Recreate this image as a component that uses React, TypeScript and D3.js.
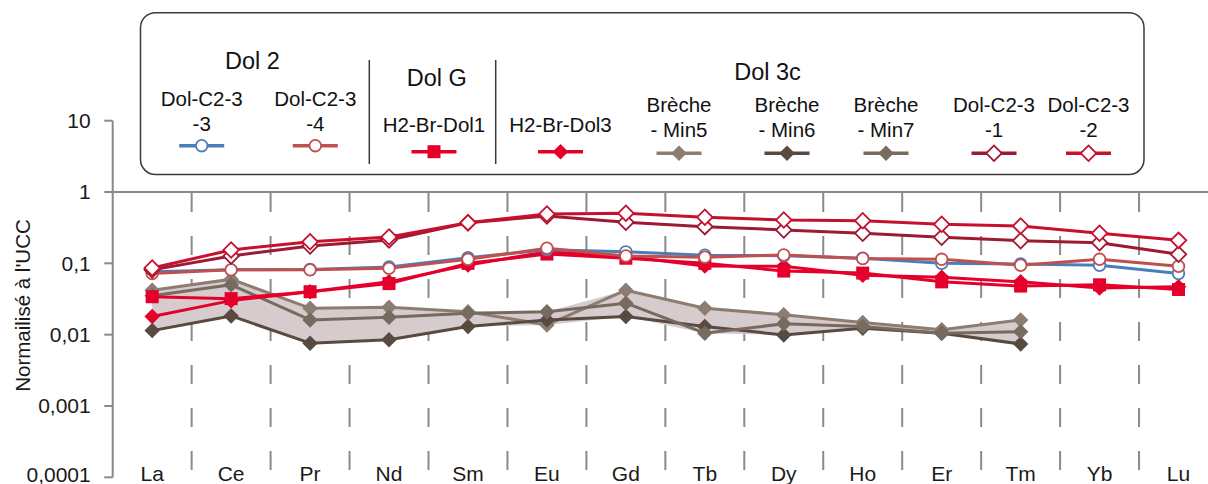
import * as React from 'react';
import * as d3 from 'd3';

const WIDTH = 1208;
const HEIGHT = 484;
const FONT = '"Liberation Sans", Arial, sans-serif';

// categories and y ticks
const ELEMENTS = ['La', 'Ce', 'Pr', 'Nd', 'Sm', 'Eu', 'Gd', 'Tb', 'Dy', 'Ho', 'Er', 'Tm', 'Yb', 'Lu'];
const Y_TICKS = [10, 1, 0.1, 0.01, 0.001, 0.0001];
const Y_TICK_LABELS = ['10', '1', '0,1', '0,01', '0,001', '0,0001'];
const Y_TITLE = "Normailisé à l'UCC";

// Dol 2
const DOL_C2_3_3 = [0.076, 0.081, 0.082, 0.089, 0.12, 0.155, 0.145, 0.13, 0.128, 0.118, 0.1, 0.098, 0.094, 0.072];
const DOL_C2_3_4 = [0.072, 0.081, 0.081, 0.085, 0.114, 0.163, 0.127, 0.122, 0.131, 0.117, 0.114, 0.094, 0.114, 0.091];
// Dol G
const H2_BR_DOL1 = [0.034, 0.032, 0.04, 0.052, 0.1, 0.135, 0.118, 0.1, 0.078, 0.073, 0.055, 0.048, 0.05, 0.043];
// Dol 3c
const H2_BR_DOL3 = [0.018, 0.03, 0.04, 0.055, 0.095, 0.145, 0.125, 0.092, 0.091, 0.068, 0.064, 0.055, 0.045, 0.047];
const BRECHE_MIN5 = [0.042, 0.06, 0.0235, 0.0243, 0.021, 0.0137, 0.042, 0.0235, 0.019, 0.0148, 0.0117, 0.0161];
const BRECHE_MIN6 = [0.0114, 0.0183, 0.0076, 0.0085, 0.013, 0.016, 0.018, 0.013, 0.0099, 0.0123, 0.0105, 0.0074];
const BRECHE_MIN7 = [0.035, 0.05, 0.0161, 0.0176, 0.02, 0.021, 0.0276, 0.0105, 0.0142, 0.013, 0.0105, 0.011];
const DOL_C2_3_1 = [0.081, 0.127, 0.175, 0.213, 0.37, 0.461, 0.376, 0.327, 0.294, 0.264, 0.232, 0.208, 0.195, 0.134];
const DOL_C2_3_2 = [0.086, 0.154, 0.201, 0.234, 0.372, 0.492, 0.503, 0.442, 0.405, 0.396, 0.353, 0.334, 0.265, 0.21];

type MarkerType = 'circle' | 'square' | 'diamond' | 'openDiamond';

interface Series {
    label: string[];
    values: number[];
    color: string;
    marker: MarkerType;
}

// drawing order (last on top)
const SERIES: Series[] = [
    { label: ['Brèche', '- Min5'], values: BRECHE_MIN5, color: '#8c7c71', marker: 'diamond' },
    { label: ['Brèche', '- Min6'], values: BRECHE_MIN6, color: '#584a40', marker: 'diamond' },
    { label: ['Brèche', '- Min7'], values: BRECHE_MIN7, color: '#776a5e', marker: 'diamond' },
    { label: ['H2-Br-Dol1'], values: H2_BR_DOL1, color: '#e4002b', marker: 'square' },
    { label: ['H2-Br-Dol3'], values: H2_BR_DOL3, color: '#e4002b', marker: 'diamond' },
    { label: ['Dol-C2-3', '-3'], values: DOL_C2_3_3, color: '#4a7ebb', marker: 'circle' },
    { label: ['Dol-C2-3', '-4'], values: DOL_C2_3_4, color: '#c0504d', marker: 'circle' },
    { label: ['Dol-C2-3', '-1'], values: DOL_C2_3_1, color: '#9e1a32', marker: 'openDiamond' },
    { label: ['Dol-C2-3', '-2'], values: DOL_C2_3_2, color: '#c8102e', marker: 'openDiamond' },
];

// legend layout: series index, centre x, first baseline, marker y
const LEGEND_ITEMS = [
    { s: 5, cx: 201.7, y: 106, my: 145.7 },
    { s: 6, cx: 315.3, y: 106, my: 145.7 },
    { s: 3, cx: 434, y: 131.7, my: 151.7 },
    { s: 4, cx: 560.5, y: 131.7, my: 151.7 },
    { s: 0, cx: 679, y: 111.7, my: 153.3 },
    { s: 1, cx: 787, y: 111.7, my: 153.3 },
    { s: 2, cx: 886, y: 111.7, my: 153.3 },
    { s: 7, cx: 994, y: 111.7, my: 153.3 },
    { s: 8, cx: 1088.5, y: 111.7, my: 153.3 },
];
const LEGEND_HEADERS = [
    { text: 'Dol 2', x: 252.5, y: 69 },
    { text: 'Dol G', x: 436.7, y: 86 },
    { text: 'Dol 3c', x: 767.5, y: 80 },
];

const MARGINS = { left: 112.7, right: 1218, top: 120.7, bottom: 477.3 };

const diamondPath = d3.symbol(d3.symbolSquare, 120)() as string;

function Marker({ type, x, y, color }: { type: MarkerType; x: number; y: number; color: string }) {
    if (type === 'circle') {
        return <circle cx={x} cy={y} r={5.8} fill="#fff" stroke={color} strokeWidth={1.8} />;
    }
    if (type === 'square') {
        return <rect x={x - 6.5} y={y - 6.5} width={13} height={13} fill={color} />;
    }
    const open = type === 'openDiamond';
    return (
        <path
            d={diamondPath}
            transform={`translate(${x},${y}) rotate(45)`}
            fill={open ? '#fff' : color}
            stroke={open ? color : 'none'}
            strokeWidth={open ? 1.8 : 0}
        />
    );
}

export default function App() {
    const x = d3.scaleBand<string>().domain(ELEMENTS).range([MARGINS.left, MARGINS.right]).padding(0);
    const xc = (i: number) => (x(ELEMENTS[i]) as number) + x.bandwidth() / 2;
    const y = d3.scaleLog().domain([0.0001, 10]).range([MARGINS.bottom, MARGINS.top]);

    const line = d3.line<number>().x((_, i) => xc(i)).y(d => y(d));

    // envelope of the three Brèche series
    const brech = [BRECHE_MIN5, BRECHE_MIN6, BRECHE_MIN7];
    const envIdx = d3.range(BRECHE_MIN5.length);
    const area = d3.area<number>()
        .x(i => xc(i))
        .y0(i => y(d3.min(brech, s => s[i]) as number))
        .y1(i => y(d3.max(brech, s => s[i]) as number));

    const yOne = y(1);
    const grey = '#8a8a8a';

    return (
        <svg width={WIDTH} height={HEIGHT} style={{ position: 'absolute', left: 0, top: 0, fontFamily: FONT }}>
            {/* dashed category separators */}
            {ELEMENTS.slice(1).map(c => (
                <line key={c} x1={x(c)} x2={x(c)} y1={yOne + 1} y2={MARGINS.bottom}
                    stroke={grey} strokeWidth={2} strokeDasharray="19 24" />
            ))}
            {/* horizontal axis crossing at 1 */}
            <line x1={MARGINS.left} x2={WIDTH} y1={yOne} y2={yOne} stroke={grey} strokeWidth={2} />
            {/* y axis */}
            <line x1={MARGINS.left} x2={MARGINS.left} y1={y(10)} y2={y(0.0001)} stroke={grey} strokeWidth={2} />
            {Y_TICKS.map((t, i) => (
                <g key={t}>
                    <line x1={MARGINS.left - 8.5} x2={MARGINS.left} y1={y(t)} y2={y(t)} stroke={grey} strokeWidth={2} />
                    <text x={90.7} y={Math.min(y(t) + 7.3, 481.5)} textAnchor="end" fontSize={21} fill="#1a1a1a">{Y_TICK_LABELS[i]}</text>
                </g>
            ))}
            <text transform={`translate(22.7,305.5) rotate(-90)`} textAnchor="middle" dy="0.35em" fontSize={20.5} fill="#1a1a1a">{Y_TITLE}</text>
            {ELEMENTS.map((c, i) => (
                <text key={c} x={xc(i)} y={481} textAnchor="middle" fontSize={21} fill="#1a1a1a">{c}</text>
            ))}

            {/* envelope */}
            <path d={area(envIdx) as string} fill="#d6cccd" />

            {SERIES.map((s, k) => (
                <g key={k}>
                    <path d={line(s.values) as string} fill="none" stroke={s.color} strokeWidth={3} strokeLinejoin="round" />
                    {s.values.map((v, i) => (
                        <Marker key={i} type={s.marker} x={xc(i)} y={y(v)} color={s.color} />
                    ))}
                </g>
            ))}

            {/* legend */}
            <rect x={140.5} y={12.7} width={1003.5} height={161.8} rx={15} fill="#fff" stroke="#3a3a3a" strokeWidth={1.5} />
            <line x1={369.3} x2={369.3} y1={60} y2={164} stroke="#3a3a3a" strokeWidth={1.5} />
            <line x1={495.7} x2={495.7} y1={60} y2={164} stroke="#3a3a3a" strokeWidth={1.5} />
            {LEGEND_HEADERS.map(h => (
                <text key={h.text} x={h.x} y={h.y} textAnchor="middle" fontSize={23.5} fill="#111">{h.text}</text>
            ))}
            {LEGEND_ITEMS.map(item => {
                const s = SERIES[item.s];
                return (
                    <g key={item.s}>
                        {s.label.map((t, j) => (
                            <text key={j} x={item.cx} y={item.y + j * 25} textAnchor="middle" fontSize={20.5} fill="#111">{t}</text>
                        ))}
                        <line x1={item.cx - 22.5} x2={item.cx + 22.5} y1={item.my} y2={item.my} stroke={s.color} strokeWidth={3.5} />
                        <Marker type={s.marker} x={item.cx} y={item.my} color={s.color} />
                    </g>
                );
            })}
        </svg>
    );
}
